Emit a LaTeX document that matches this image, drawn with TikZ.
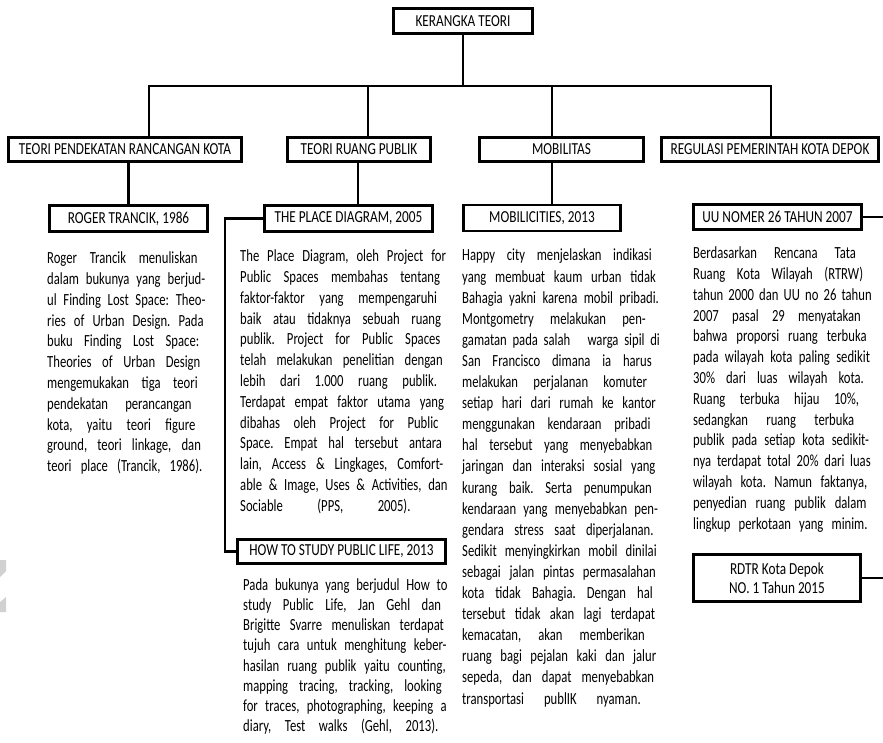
\documentclass[tikz,border=0pt]{standalone}
\usepackage{fontspec}
\setmainfont{Carlito}[FakeStretch=0.745]
\newfontfamily\boxfamily{Carlito}[FakeStretch=0.79]
\usetikzlibrary{positioning}
\newcommand{\boxfont}{\boxfamily\fontsize{16.8}{19}\selectfont}
\newcommand{\parafont}{\fontsize{17}{20.8}\selectfont}
\newcommand{\parsetup}{\frenchspacing\spaceskip=0.19em plus 1.5em minus 0.07em\xspaceskip=\spaceskip
  \parfillskip=0pt\tolerance=10000\hbadness=10000\hyphenpenalty=10000\exhyphenpenalty=10000\relax}
\newcommand{\lnb}{\linebreak}

\begin{document}
\begin{tikzpicture}[x=1pt, y=-1pt,
    box/.style={draw, line width=2.8pt, inner sep=0pt, font=\boxfont, align=center},
    link/.style={line width=2.4pt},
    para/.style={anchor=north west, inner sep=0pt, text width=#1, font=\parafont,
      execute at begin node={\parsetup\strut}}]
  \useasboundingbox (0,0) rectangle (883,743);
  % boxes
  \node[box, minimum width=139pt, minimum height=25pt] (kerangka) at (463,21) {KERANGKA TEORI};
  \node[box, minimum width=233pt, minimum height=24pt] (pendekatan) at (125,149.5) {TEORI PENDEKATAN RANCANGAN KOTA};
  \node[box, minimum width=143pt, minimum height=24pt] (ruang) at (359,149.5) {TEORI RUANG PUBLIK};
  \node[box, minimum width=164pt, minimum height=24pt] (mobilitas) at (561.5,149.5) {MOBILITAS};
  \node[box, minimum width=217pt, minimum height=24pt] (regulasi) at (770,149.5) {REGULASI PEMERINTAH KOTA DEPOK};
  \node[box, minimum width=158pt, minimum height=26pt] (trancik) at (128.5,218.5) {ROGER TRANCIK, 1986};
  \node[box, minimum width=168pt, minimum height=26pt] (place) at (348.5,218.5) {THE PLACE DIAGRAM, 2005};
  \node[box, minimum width=157pt, minimum height=26pt] (mobilicities) at (542,218) {MOBILICITIES, 2013};
  \node[box, minimum width=168pt, minimum height=25pt] (uu) at (777.5,217) {UU NOMER 26 TAHUN 2007};
  \node[box, minimum width=208pt, minimum height=24pt] (howto) at (341.5,551.5) {HOW TO STUDY PUBLIC LIFE, 2013};
  \node[box, minimum width=167pt, minimum height=47pt] (rdtr) at (777,578) {RDTR Kota Depok\\NO. 1 Tahun 2015};
  % connectors
  \coordinate (barL) at (149,86);
  \coordinate (barB) at (368,86);
  \coordinate (barC) at (552,86);
  \coordinate (barR) at (771,86);
  \coordinate (brk) at (225,0);
  \coordinate (edge) at (883,0);
  \draw[link] (kerangka.south) -- (kerangka.south |- barL);
  \draw[link] (pendekatan.north -| barL) -- (barL) -- (barR) -- (regulasi.north -| barR);
  \draw[link] (barB) -- (ruang.north -| barB);
  \draw[link] (barC) -- (mobilitas.north -| barC);
  \draw[link] (trancik.north |- pendekatan.south) -- (trancik.north);
  \draw[link] (ruang.south -| 358,0) -- (place.north -| 358,0);
  \draw[link] (mobilitas.south -| barC) -- (mobilicities.north -| barC);
  \draw[link] (place.west) -- (place.west -| brk) |- (howto.west);
  \draw[link] (uu.east) -- (uu.east -| edge);
  \draw[link] (rdtr.east) -- (rdtr.east -| edge);
  % texts
  \node[para=163pt] (txttrancik) at (47,249) {Roger Trancik menuliskan\lnb
    dalam bukunya yang berjud-\lnb
    ul Finding Lost Space: Theo-\lnb
    ries of Urban Design. Pada\lnb
    buku Finding Lost Space:\lnb
    Theories of Urban Design\lnb
    mengemukakan tiga teori\lnb
    pendekatan perancangan\lnb
    kota, yaitu teori figure\lnb
    ground, teori linkage, dan\lnb
    teori place (Trancik, 1986).};
  \node[para=212pt] (txtplace) at (240,247) {The Place Diagram, oleh Project for\lnb
    Public Spaces membahas tentang\lnb
    faktor-faktor yang mempengaruhi\lnb
    baik atau tidaknya sebuah ruang\lnb
    publik. Project for Public Spaces\lnb
    telah melakukan penelitian dengan\lnb
    lebih dari 1.000 ruang publik.\lnb
    Terdapat empat faktor utama yang\lnb
    dibahas oleh Project for Public\lnb
    Space. Empat hal tersebut antara\lnb
    lain, Access \& Lingkages, Comfort-\lnb
    able \& Image, Uses \& Activities, dan\lnb
    Sociable (PPS, 2005).};
  \node[para=209pt, font=\fontsize{17}{20.2}\selectfont] (txthowto) at (243,576) {Pada bukunya yang berjudul How to\lnb
    study Public Life, Jan Gehl dan\lnb
    Brigitte Svarre menuliskan terdapat\lnb
    tujuh cara untuk menghitung keber-\lnb
    hasilan ruang publik yaitu counting,\lnb
    mapping tracing, tracking, looking\lnb
    for traces, photographing, keeping a\lnb
    diary, Test walks (Gehl, 2013).};
  \node[para=201pt, font=\fontsize{17}{21.1}\selectfont] (txtmobilitas) at (462,246) {Happy city menjelaskan indikasi\lnb
    yang membuat kaum urban tidak\lnb
    Bahagia yakni karena mobil pribadi.\lnb
    Montgometry melakukan pen-\lnb
    gamatan pada salah \ \ warga sipil di\lnb
    San Francisco dimana ia harus\lnb
    melakukan perjalanan komuter\lnb
    setiap hari dari rumah ke kantor\lnb
    menggunakan kendaraan pribadi\lnb
    hal tersebut yang menyebabkan\lnb
    jaringan dan interaksi sosial yang\lnb
    kurang baik. Serta penumpukan\lnb
    kendaraan yang menyebabkan pen-\lnb
    gendara stress saat diperjalanan.\lnb
    Sedikit menyingkirkan mobil dinilai\lnb
    sebagai jalan pintas permasalahan\lnb
    kota tidak Bahagia. Dengan hal\lnb
    tersebut tidak akan lagi terdapat\lnb
    kemacatan, akan memberikan\lnb
    ruang bagi pejalan kaki dan jalur\lnb
    sepeda, dan dapat menyebabkan\lnb
    transportasi publIK nyaman.};
  \node[para=181pt] (txtregulasi) at (693,244) {Berdasarkan Rencana Tata\lnb
    Ruang Kota Wilayah (RTRW)\lnb
    tahun 2000 dan UU no 26 tahun\lnb
    2007 pasal 29 menyatakan\lnb
    bahwa proporsi ruang terbuka\lnb
    pada wilayah kota paling sedikit\lnb
    30\% dari luas wilayah kota.\lnb
    Ruang terbuka hijau 10\%,\lnb
    sedangkan ruang terbuka\lnb
    publik pada setiap kota sedikit-\lnb
    nya terdapat total 20\% dari luas\lnb
    wilayah kota. Namun faktanya,\lnb
    penyedian ruang publik dalam\lnb
    lingkup perkotaan yang minim.};
  % faint mark at the left edge
  \fill[black!18] (0,560) -- (6,560) -- (6,571) -- (0,577) -- cycle;
  \fill[black!18] (0,602) -- (6,597) -- (6,612) -- (0,612) -- cycle;
\end{tikzpicture}
\end{document}
